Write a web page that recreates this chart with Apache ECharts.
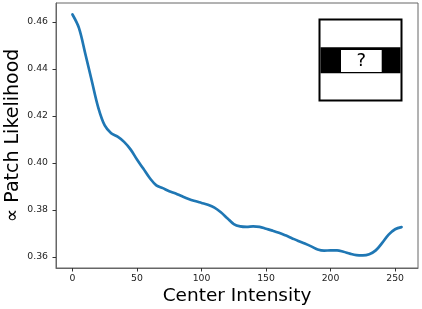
<!DOCTYPE html>
<html>
<head>
<meta charset="utf-8">
<script src="https://cdn.jsdelivr.net/npm/echarts@6/dist/echarts.min.js"></script>
<style>
html,body{margin:0;padding:0;background:#fff;}
#c{width:422px;height:309px;}
</style>
</head>
<body>
<div id="c"></div>
<script>
// Data
var intensity = [0,5,10,15,20,25,30,35,40,45,50,55,60,65,70,75,80,85,90,95,100,105,110,115,120,125,130,135,140,145,150,155,160,165,170,175,180,185,190,195,200,205,210,215,220,225,230,235,240,245,250,255];
var likelihood = [0.4632,0.4575,0.4464,0.4349,0.4236,0.4160,0.4127,0.4112,0.4090,0.4058,0.4015,0.3975,0.3935,0.3905,0.3893,0.3880,0.3870,0.3858,0.3847,0.3838,0.3830,0.3822,0.3810,0.3790,0.3765,0.3740,0.3730,0.3728,0.3730,0.3728,0.3720,0.3712,0.3703,0.3692,0.3680,0.3668,0.3657,0.3645,0.3632,0.3627,0.3628,0.3628,0.3622,0.3614,0.3608,0.3607,0.3612,0.3628,0.3660,0.3695,0.3718,0.3727];
var xTicks = [0,50,100,150,200,250];
var yTicks = [0.36,0.38,0.40,0.42,0.44,0.46];
var xLabel = 'Center Intensity';
var yLabel = '\u221D Patch Likelihood';

var pts = intensity.map(function(x,i){return [x, likelihood[i]];});
var chart = echarts.init(document.getElementById('c'));
var font = 'DejaVu Sans';
chart.setOption({
  animation:false,
  grid:{left:56,top:3,width:362,height:265,show:true,borderColor:'#666',borderWidth:1,backgroundColor:'transparent',containLabel:false,outerBoundsMode:'none'},
  xAxis:{
    type:'value', min:-12.75, max:267.75,
    axisLine:{show:true,onZero:false,lineStyle:{color:'#666',width:1}},
    axisTick:{show:true,length:3.5,customValues:xTicks,lineStyle:{color:'#333'}},
    axisLabel:{customValues:xTicks,margin:6,color:'#222',fontFamily:font,fontSize:9.3},
    splitLine:{show:false},
    name:xLabel,nameLocation:'middle',nameGap:19,nameMoveOverlap:false,
    nameTextStyle:{fontFamily:font,fontSize:18.5,color:'#000',verticalAlign:'top'}
  },
  yAxis:{
    type:'value', min:0.3553, max:0.4681,
    axisLine:{show:true,onZero:false,lineStyle:{color:'#666',width:1}},
    axisTick:{show:true,length:3.5,customValues:yTicks,lineStyle:{color:'#333'}},
    axisLabel:{customValues:yTicks,margin:8,color:'#222',fontFamily:font,fontSize:9.3,
      formatter:function(v){return v.toFixed(2);}},
    splitLine:{show:false},
    name:yLabel,nameLocation:'middle',nameGap:33,nameRotate:90,nameMoveOverlap:false,
    nameTextStyle:{fontFamily:font,fontSize:19,color:'#000'}
  },
  series:[{
    type:'line',data:pts,smooth:0.35,showSymbol:false,
    lineStyle:{color:'#1f77b4',width:2.7,cap:'round'},
    itemStyle:{color:'#1f77b4'}
  }],
  graphic:[
    {type:'rect',shape:{x:319.5,y:19.5,width:82,height:81},style:{fill:'#fff',stroke:'#000',lineWidth:2},z:10},
    {type:'rect',shape:{x:320.5,y:47.3,width:80,height:26},style:{fill:'#000'},z:11},
    {type:'rect',shape:{x:341,y:50,width:40.7,height:22},style:{fill:'#fff'},z:12},
    {type:'text',x:361.3,y:61.5,style:{text:'?',fontFamily:font,fontSize:18,fill:'#000',align:'center',verticalAlign:'middle'},z:13}
  ]
});
</script>
</body>
</html>
